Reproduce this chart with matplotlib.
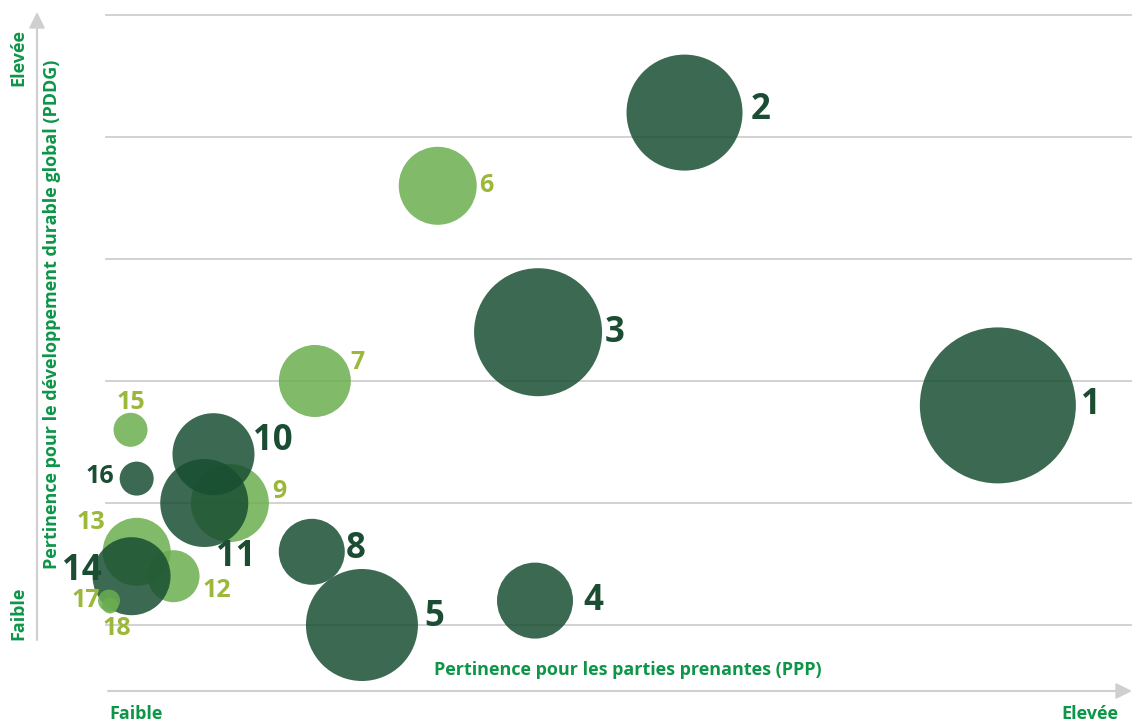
import matplotlib.pyplot as plt

# Données : matrice de matérialité (PPP en x, PDDG en y, poids = taille des bulles)
enjeux = ['1', '2', '3', '4', '5', '6', '7', '8', '9', '10',
          '11', '12', '13', '14', '15', '16', '17', '18']
ppp = [8.69, 5.63, 4.20, 4.17, 2.48, 3.22, 2.02, 1.99, 1.19, 1.03,
       0.94, 0.64, 0.28, 0.23, 0.22, 0.28, 0.01, 0.02]
pddg = [1.80, 4.20, 2.40, 0.20, 0.00, 3.60, 2.00, 0.60, 1.00, 1.40,
        1.00, 0.40, 0.60, 0.40, 1.60, 1.20, 0.20, 0.16]
poids = [78, 58, 64, 38, 56, 39, 36, 33, 39, 41,
         44, 26, 34, 39, 17, 17, 11, 8]
groupe = ['f', 'f', 'f', 'f', 'f', 'c', 'c', 'f', 'c', 'f',
          'f', 'c', 'c', 'f', 'c', 'f', 'c', 'c']

# Styles
DPI = 100
bulle = {'f': '#194f32', 'c': '#6bae4f'}
texte = {'f': '#1b4d33', 'c': '#9bb83a'}
vert_axe = '#0d9548'
gris = '#cfcfcf'

# décalage des étiquettes (pixels, vers la droite / vers le haut)
decalage = {
    '1': (93, 0), '2': (76, 3), '3': (77, -1), '4': (58, 0), '5': (72, 8),
    '6': (49, 0), '7': (43, 18), '8': (44, 3), '9': (50, 12), '10': (59, 13),
    '11': (31, -54), '12': (43, -14), '13': (-46, 29), '14': (-50, 5),
    '15': (0, 27), '16': (-37, 2), '17': (-23, 0), '18': (7, -23),
}
grand = ['1', '2', '3', '4', '5', '8', '10', '11', '14']

plt.rcParams['font.family'] = ['Open Sans', 'DejaVu Sans']

fig = plt.figure(figsize=(11.32, 7.24), dpi=DPI)
ax = fig.add_axes([108 / 1132, 34 / 724, 1024 / 1132, 675 / 724])
ax.set_xlim(0, 10)
ax.set_ylim(-65 / 122, 5)
ax.axis('off')

# lignes horizontales
for yy in range(6):
    ax.axhline(yy, xmin=-0.002, xmax=1, color=gris, lw=1.3, zorder=0, clip_on=False)

for i, e in enumerate(enjeux):
    g = groupe[i]
    s = (2 * poids[i] * 72 / DPI) ** 2
    ax.scatter(ppp[i], pddg[i], s=s, color=bulle[g], alpha=0.85,
               edgecolors='none', zorder=2, clip_on=False)
    dx, dy = decalage[e]
    ax.annotate(e, (ppp[i], pddg[i]), xytext=(dx, dy), textcoords='offset pixels',
                ha='center', va='center', fontsize=25 if e in grand else 18,
                fontweight='bold', color=texte[g], zorder=3, annotation_clip=False)

# axes avec flèches
fig.add_artist(plt.matplotlib.patches.FancyArrowPatch(
    (37 / 1132, 84 / 724), (37 / 1132, 712 / 724), transform=fig.transFigure,
    arrowstyle='-|>', mutation_scale=24, color=gris, lw=1.5, shrinkA=0, shrinkB=0))
fig.add_artist(plt.matplotlib.patches.FancyArrowPatch(
    (108 / 1132, 33 / 724), (1132 / 1132, 33 / 724), transform=fig.transFigure,
    arrowstyle='-|>', mutation_scale=24, color=gris, lw=1.5, shrinkA=0, shrinkB=0))

fig.text(628 / 1132, 1 - 670 / 724, 'Pertinence pour les parties prenantes (PPP)',
         ha='center', va='center', fontsize=13, fontweight='bold', color=vert_axe)
fig.text(52 / 1132, 1 - 314 / 724, 'Pertinence pour le développement durable global (PDDG)',
         ha='center', va='center', rotation=90, fontsize=13, fontweight='bold', color=vert_axe)
fig.text(136 / 1132, 1 - 714 / 724, 'Faible', ha='center', va='center',
         fontsize=13, fontweight='bold', color=vert_axe)
fig.text(1090 / 1132, 1 - 714 / 724, 'Elevée', ha='center', va='center',
         fontsize=13, fontweight='bold', color=vert_axe)
fig.text(18 / 1132, 1 - 57 / 724, 'Elevée', ha='center', va='center', rotation=90,
         fontsize=13, fontweight='bold', color=vert_axe)
fig.text(18 / 1132, 1 - 613 / 724, 'Faible', ha='center', va='center', rotation=90,
         fontsize=13, fontweight='bold', color=vert_axe)

fig.savefig('out.png', dpi=DPI)
